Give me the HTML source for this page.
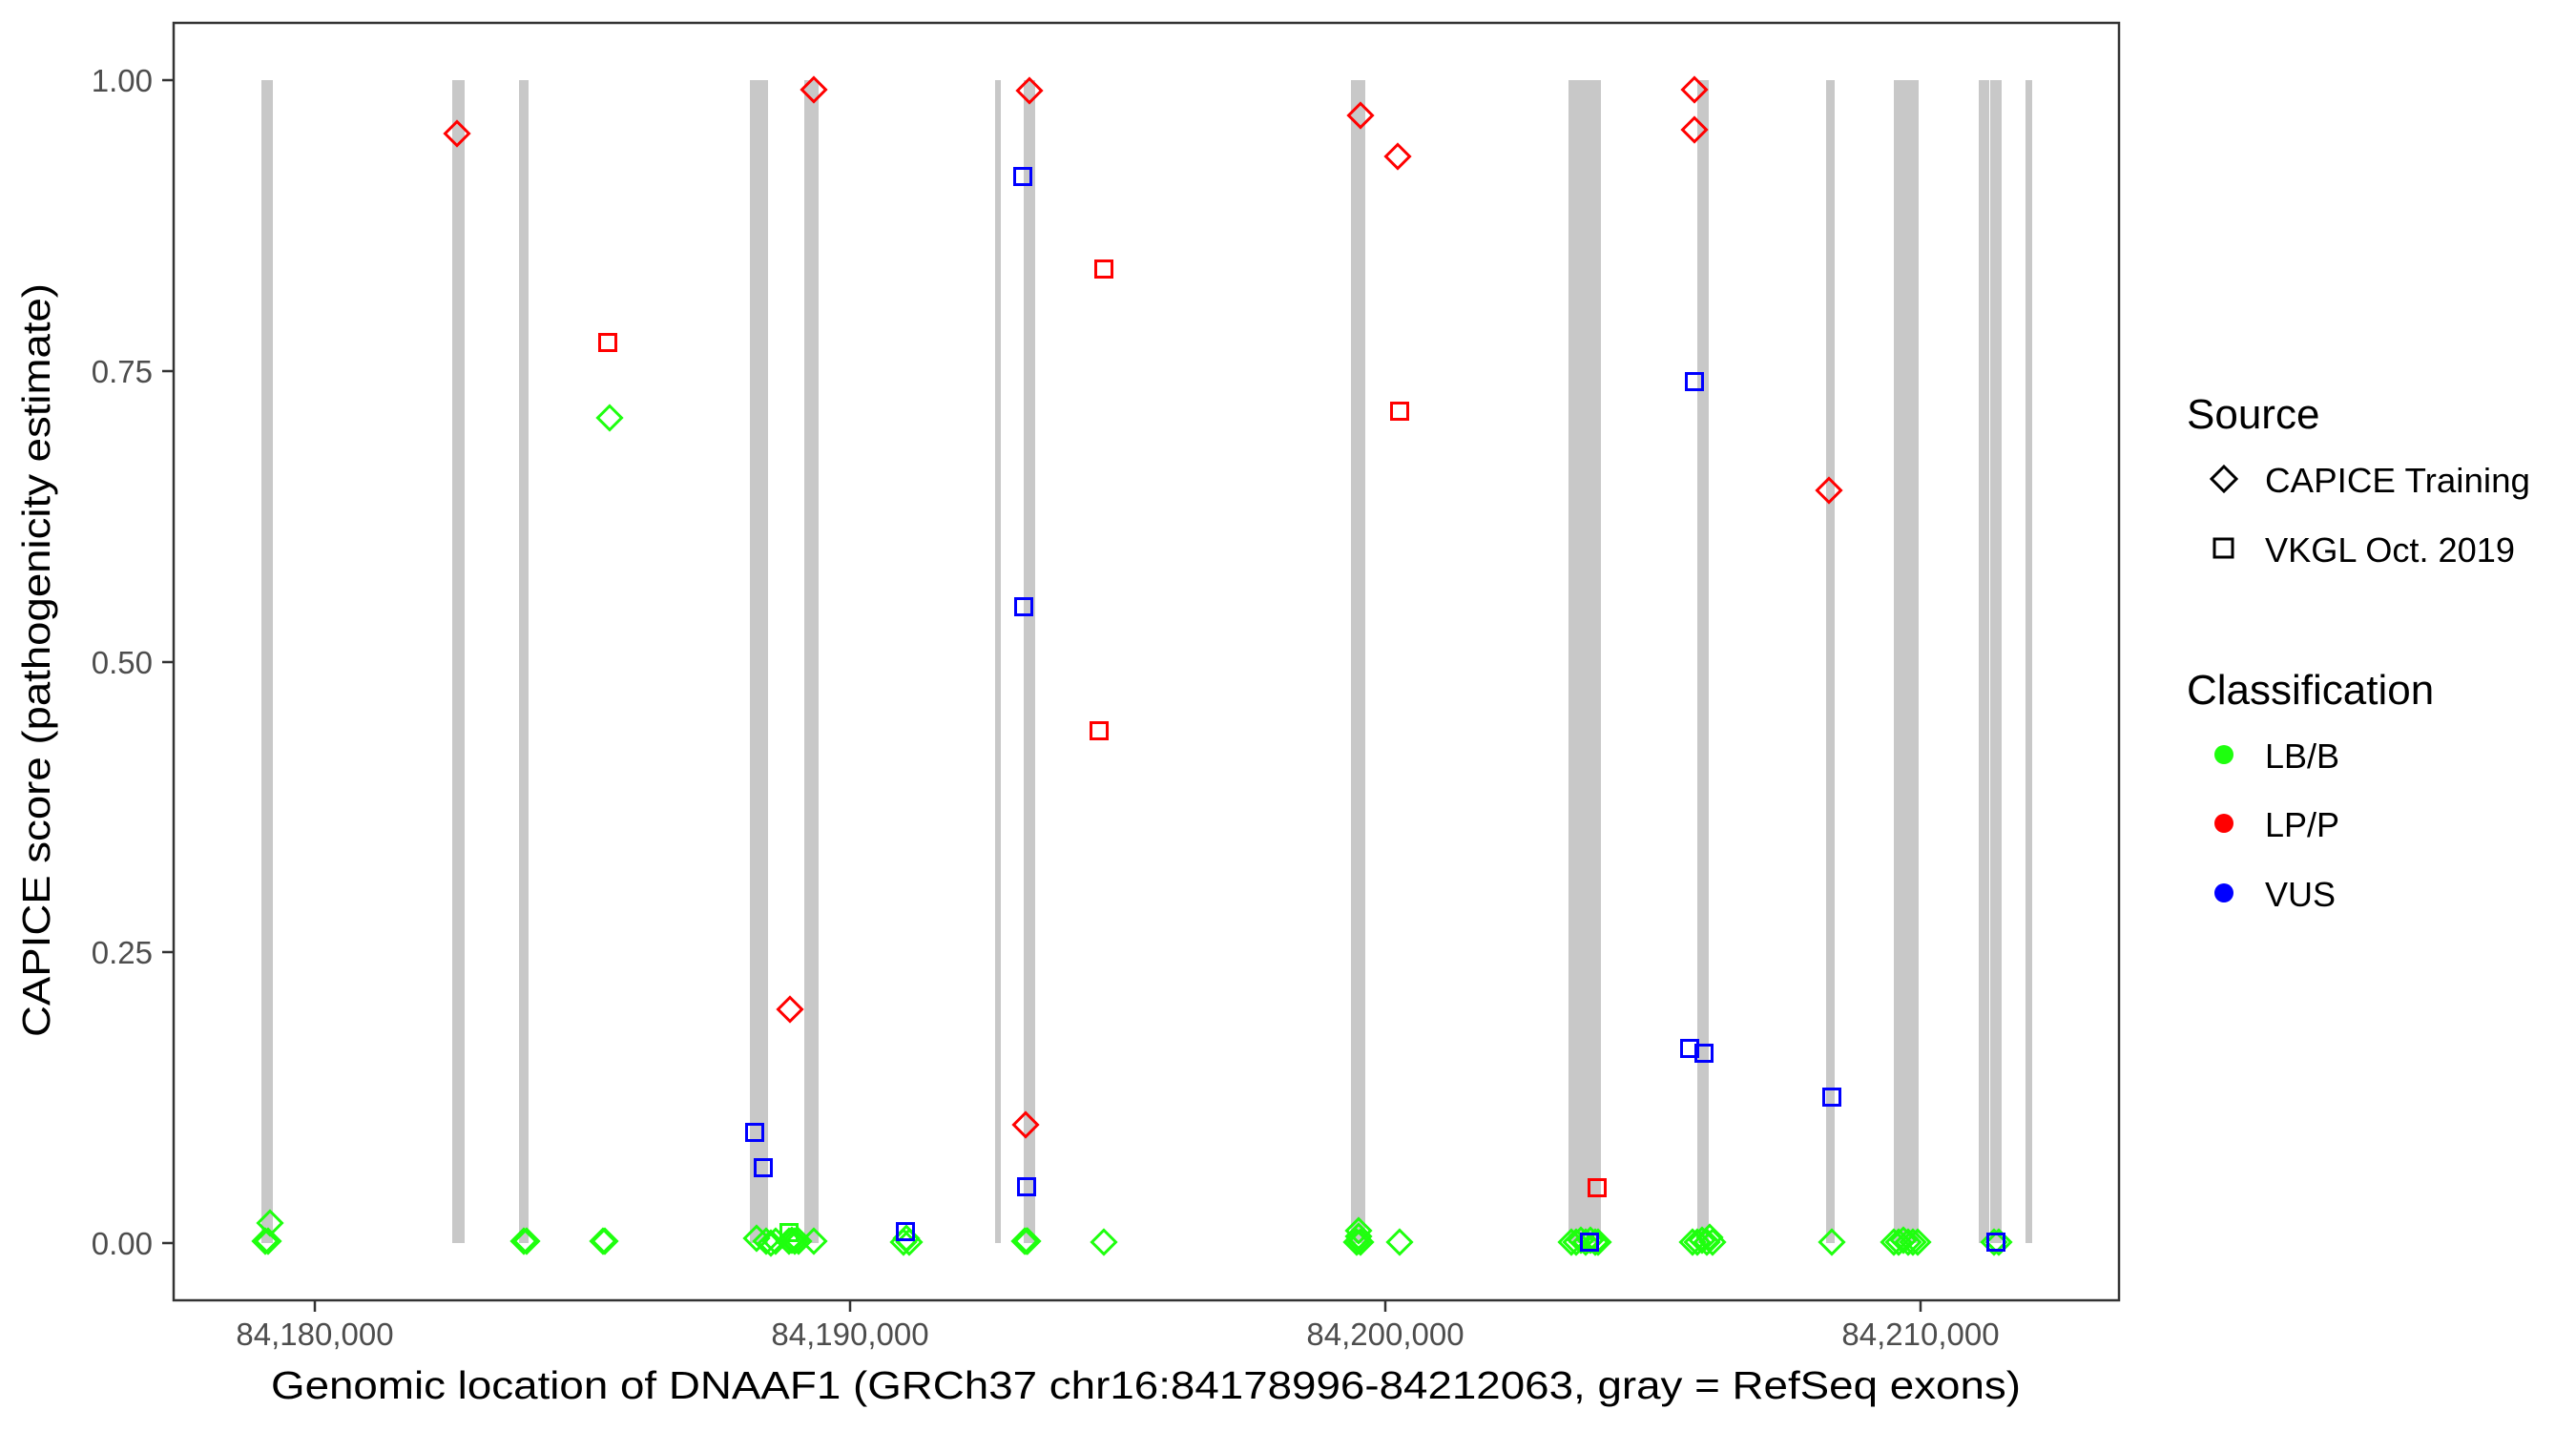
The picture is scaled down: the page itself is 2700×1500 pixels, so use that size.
<!DOCTYPE html>
<html><head><meta charset="utf-8"><style>html,body{margin:0;padding:0;background:#fff}svg{display:block}</style></head>
<body>
<svg xmlns="http://www.w3.org/2000/svg" width="2700" height="1500" viewBox="0 0 2700 1500" font-family="Liberation Sans, Arial, sans-serif">
<defs>
<path id="d" d="M0,-12.5 L12.5,0 L0,12.5 L-12.5,0 Z" fill="none" stroke-width="3"/>
<rect id="s" x="-8.5" y="-8.5" width="17" height="17" fill="none" stroke-width="3"/>
</defs>
<rect width="2700" height="1500" fill="#fff"/>
<g fill="#c8c8c8">
<rect x="274" y="84" width="12" height="1219"/>
<rect x="474" y="84" width="13" height="1219"/>
<rect x="544" y="84" width="10" height="1219"/>
<rect x="786" y="84" width="19" height="1219"/>
<rect x="843" y="84" width="15" height="1219"/>
<rect x="1043" y="84" width="6" height="1219"/>
<rect x="1073" y="84" width="12" height="1219"/>
<rect x="1416" y="84" width="15" height="1219"/>
<rect x="1644" y="84" width="34" height="1219"/>
<rect x="1779" y="84" width="12" height="1219"/>
<rect x="1914" y="84" width="9" height="1219"/>
<rect x="1985" y="84" width="26" height="1219"/>
<rect x="2074" y="84" width="11" height="1219"/>
<rect x="2086" y="84" width="12" height="1219"/>
<rect x="2123" y="84" width="7" height="1219"/>
</g>
<g stroke="#1eff0e">
<use href="#d" x="283" y="1282"/><use href="#d" x="278" y="1301"/><use href="#d" x="281" y="1301"/>
<use href="#d" x="549" y="1301"/><use href="#d" x="552" y="1301"/>
<use href="#d" x="632" y="1301"/><use href="#d" x="634" y="1301"/>
<use href="#d" x="639" y="438"/>
<use href="#d" x="793" y="1298"/><use href="#d" x="803" y="1301"/><use href="#d" x="808" y="1303"/><use href="#d" x="813" y="1301"/>
<use href="#d" x="827" y="1301"/><use href="#d" x="830" y="1300"/><use href="#d" x="833" y="1301"/><use href="#d" x="837" y="1301"/><use href="#d" x="853" y="1301"/>
<use href="#s" x="827" y="1292"/>
<use href="#d" x="947" y="1302"/><use href="#d" x="953" y="1302"/><use href="#d" x="950" y="1298"/>
<use href="#d" x="1074" y="1301"/><use href="#d" x="1076" y="1301"/><use href="#d" x="1077" y="1301"/>
<use href="#d" x="1157" y="1302"/>
<use href="#d" x="1424" y="1290"/><use href="#d" x="1424" y="1296"/><use href="#d" x="1422" y="1302"/><use href="#d" x="1426" y="1302"/>
<use href="#d" x="1467" y="1302"/>
<use href="#d" x="1647" y="1302"/><use href="#d" x="1652" y="1302"/><use href="#d" x="1657" y="1300"/><use href="#d" x="1662" y="1302"/><use href="#d" x="1667" y="1300"/><use href="#d" x="1672" y="1302"/><use href="#d" x="1675" y="1302"/>
<use href="#d" x="1774" y="1302"/><use href="#d" x="1779" y="1302"/><use href="#d" x="1784" y="1300"/><use href="#d" x="1789" y="1302"/><use href="#d" x="1792" y="1297"/><use href="#d" x="1795" y="1302"/>
<use href="#d" x="1920" y="1302"/>
<use href="#d" x="1985" y="1302"/><use href="#d" x="1990" y="1302"/><use href="#d" x="1995" y="1300"/><use href="#d" x="2000" y="1302"/><use href="#d" x="2005" y="1302"/><use href="#d" x="2010" y="1302"/>
<use href="#d" x="2090" y="1302"/><use href="#d" x="2095" y="1302"/>
</g>
<g stroke="#ff0000">
<use href="#d" x="479" y="140"/><use href="#d" x="853" y="94"/><use href="#d" x="1079" y="95"/>
<use href="#s" x="1157" y="282"/><use href="#s" x="637" y="359"/><use href="#s" x="1152" y="766"/>
<use href="#d" x="828" y="1058"/><use href="#d" x="1075" y="1179"/>
<use href="#d" x="1426" y="121"/><use href="#d" x="1465" y="164"/>
<use href="#d" x="1776" y="94"/><use href="#d" x="1776" y="136"/>
<use href="#s" x="1467" y="431"/><use href="#d" x="1917" y="514"/><use href="#s" x="1674" y="1245"/>
</g>
<g stroke="#0000ff">
<use href="#s" x="1072" y="185"/><use href="#s" x="1073" y="636"/>
<use href="#s" x="791" y="1187"/><use href="#s" x="800" y="1224"/><use href="#s" x="1076" y="1244"/><use href="#s" x="949" y="1291"/>
<use href="#s" x="1776" y="400"/><use href="#s" x="1771" y="1099"/><use href="#s" x="1786" y="1104"/><use href="#s" x="1920" y="1150"/>
<use href="#s" x="1666" y="1302"/><use href="#s" x="2092" y="1302"/>
</g>
<rect x="182" y="24" width="2039" height="1339" fill="none" stroke="#333" stroke-width="2.5"/>
<g stroke="#333" stroke-width="2.5">
<line x1="170" y1="84" x2="182" y2="84"/><line x1="170" y1="389" x2="182" y2="389"/><line x1="170" y1="694" x2="182" y2="694"/><line x1="170" y1="998" x2="182" y2="998"/><line x1="170" y1="1303" x2="182" y2="1303"/>
<line x1="330" y1="1363" x2="330" y2="1375"/><line x1="891" y1="1363" x2="891" y2="1375"/><line x1="1452" y1="1363" x2="1452" y2="1375"/><line x1="2013" y1="1363" x2="2013" y2="1375"/>
</g>
<g fill="#4d4d4d" font-size="33" text-anchor="end">
<text x="160" y="96">1.00</text><text x="160" y="401">0.75</text><text x="160" y="706">0.50</text><text x="160" y="1010">0.25</text><text x="160" y="1315">0.00</text>
</g>
<g fill="#4d4d4d" font-size="33" text-anchor="middle">
<text x="330" y="1410">84,180,000</text><text x="891" y="1410">84,190,000</text><text x="1452" y="1410">84,200,000</text><text x="2013" y="1410">84,210,000</text>
</g>
<text x="1201" y="1466" font-size="41" text-anchor="middle" textLength="1834" lengthAdjust="spacingAndGlyphs">Genomic location of DNAAF1 (GRCh37 chr16:84178996-84212063, gray = RefSeq exons)</text>
<text transform="translate(52,692) rotate(-90)" font-size="41" text-anchor="middle" textLength="790" lengthAdjust="spacingAndGlyphs">CAPICE score (pathogenicity estimate)</text>
<text x="2292" y="449" font-size="44">Source</text>
<path d="M2331,489 L2344,502 L2331,515 L2318,502 Z" fill="none" stroke="#000" stroke-width="3"/>
<text x="2374" y="516" font-size="36" textLength="278" lengthAdjust="spacingAndGlyphs">CAPICE Training</text>
<rect x="2321" y="565" width="19" height="19" fill="none" stroke="#000" stroke-width="3"/>
<text x="2374" y="589" font-size="36" textLength="262" lengthAdjust="spacingAndGlyphs">VKGL Oct. 2019</text>
<text x="2292" y="738" font-size="44">Classification</text>
<circle cx="2331" cy="791" r="10" fill="#1eff0e"/><text x="2374" y="805" font-size="36">LB/B</text>
<circle cx="2331" cy="863" r="10" fill="#ff0000"/><text x="2374" y="877" font-size="36">LP/P</text>
<circle cx="2331" cy="936" r="10" fill="#0000ff"/><text x="2374" y="950" font-size="36">VUS</text>
</svg>
</body></html>
